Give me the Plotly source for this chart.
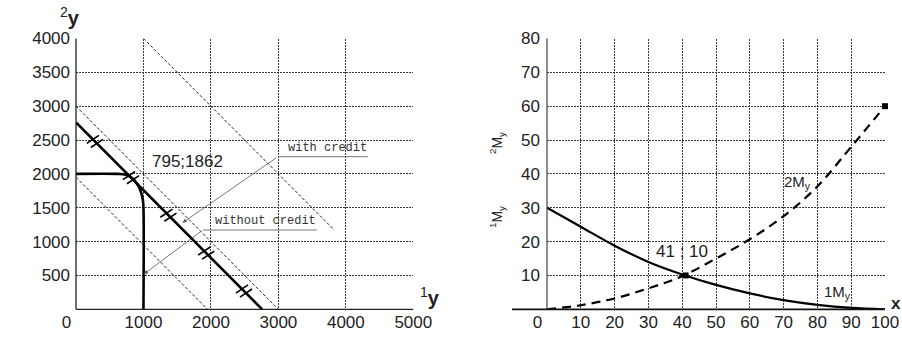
import plotly.graph_objects as go

# ---------------- data: left chart ----------------
left_xticks = [0, 1000, 2000, 3000, 4000, 5000]
left_xticktext = ["0\u2007\u2007", "1000", "2000", "3000", "4000", "5000"]
left_yticks = [500, 1000, 1500, 2000, 2500, 3000, 3500, 4000]

budget_x = [0, 2760]
budget_y = [2760, 0]
budget_tick_x = [280, 815, 1370, 1930, 2490]

ppf_x = [0, 620, 720, 800, 870, 930, 970, 992, 1000, 1000]
ppf_y = [2000, 2000, 1992, 1960, 1900, 1810, 1710, 1610, 1500, 0]

dash1_x = [0, 3000]
dash1_y = [3000, 0]
dash2_x = [0, 1950]
dash2_y = [1950, 0]
dash3_x = [1000, 3830]
dash3_y = [4000, 1170]

point_label = "795;1862"
point_label_xy = (1660, 2190)

with_credit_text = "with credit"
with_credit_under_x = [2993, 4326]
with_credit_under_y = 2254
with_credit_arrow_to = (1580, 1279)

without_credit_text = "without credit"
without_credit_under_x = [1881, 3570]
without_credit_under_y = 1171
without_credit_arrow_to = (1007, 521)

# ---------------- data: right chart ----------------
right_x = [0, 10, 20, 30, 40, 50, 60, 70, 80, 90, 100]
right_xticktext = ["0\u2007\u2007", "10", "20", "30", "40", "50", "60", "70", "80", "90", "100"]
right_yticks = [10, 20, 30, 40, 50, 60, 70, 80]
my1 = [30, 24.4, 18.8, 14.0, 10.3, 7.2, 4.7, 2.7, 1.3, 0.4, 0]
my2 = [0, 1.2, 3.2, 6.2, 9.8, 15.0, 20.7, 27.5, 36.3, 48.0, 60]
cross_pt = (41, 10)
end_pt = (100, 60)

# ---------------- layout constants ----------------
W, H = 902, 338


def px(x):   # page pixel -> paper x
    return x / W


def py(y):   # page pixel -> paper y
    return 1 - y / H


L_DOM = [px(76), px(413.3)]
R_DOM = [px(547), px(885)]
Y_DOM = [py(309.3), py(38.5)]

FONT = "Liberation Sans, Arial, sans-serif"
MONO = "Liberation Mono, DejaVu Sans Mono, monospace"
GRID = "#3a3a3a"

fig = go.Figure()

# left chart traces
for dx, dy in [(dash1_x, dash1_y), (dash2_x, dash2_y), (dash3_x, dash3_y)]:
    fig.add_trace(go.Scatter(x=dx, y=dy, mode="lines", xaxis="x", yaxis="y",
                             line=dict(color="#222", width=1, dash="3px,2px"),
                             showlegend=False, hoverinfo="skip"))

fig.add_trace(go.Scatter(x=budget_x, y=budget_y, mode="lines", xaxis="x", yaxis="y",
                         line=dict(color="#000", width=2.6), showlegend=False))
fig.add_trace(go.Scatter(x=ppf_x, y=ppf_y, mode="lines", xaxis="x", yaxis="y",
                         line=dict(color="#000", width=2.6, shape="spline", smoothing=1.0),
                         showlegend=False))

# double-stroke tick marks on the budget line
slope = (budget_y[1] - budget_y[0]) / (budget_x[1] - budget_x[0])
tx, ty = [], []
for x0 in budget_tick_x:
    y0 = budget_y[0] + slope * (x0 - budget_x[0])
    for off in (-30, 30):
        cx, cy = x0 + off, y0 - off
        tx += [cx - 90, cx + 90, None]
        ty += [cy - 60, cy + 60, None]
fig.add_trace(go.Scatter(x=tx, y=ty, mode="lines", xaxis="x", yaxis="y",
                         line=dict(color="#000", width=1.6), showlegend=False))

# underlines of leader labels
fig.add_trace(go.Scatter(x=with_credit_under_x, y=[with_credit_under_y] * 2, mode="lines",
                         xaxis="x", yaxis="y", line=dict(color="#777", width=1), showlegend=False,
                         cliponaxis=False))
fig.add_trace(go.Scatter(x=without_credit_under_x, y=[without_credit_under_y] * 2, mode="lines",
                         xaxis="x", yaxis="y", line=dict(color="#777", width=1), showlegend=False,
                         cliponaxis=False))

# right chart traces
fig.add_trace(go.Scatter(x=right_x, y=my1, mode="lines", xaxis="x2", yaxis="y2",
                         line=dict(color="#000", width=2.2, shape="spline"), showlegend=False))
fig.add_trace(go.Scatter(x=right_x, y=my2, mode="lines", xaxis="x2", yaxis="y2",
                         line=dict(color="#000", width=2.2, shape="spline", dash="9px,6px"),
                         showlegend=False))
fig.add_trace(go.Scatter(x=[cross_pt[0], end_pt[0]], y=[cross_pt[1], end_pt[1]], mode="markers",
                         xaxis="x2", yaxis="y2", cliponaxis=False,
                         marker=dict(symbol="square", size=6, color="#000"), showlegend=False))

axis_common = dict(showgrid=True, gridcolor=GRID, gridwidth=1, griddash="2px,1px",
                   zeroline=False, ticks="", tickfont=dict(family=FONT, size=17, color="#222"),
                   showline=False, fixedrange=True, automargin=False, ticklabeloverflow="allow")

fig.update_layout(
    template="none",
    width=W, height=H,
    margin=dict(l=0, r=0, t=0, b=0, pad=0),
    paper_bgcolor="white", plot_bgcolor="white",
    showlegend=False,
    xaxis=dict(domain=L_DOM, range=[0, 5000], tickvals=left_xticks, ticktext=left_xticktext,
               anchor="y", ticklabelstandoff=1, **axis_common),
    yaxis=dict(domain=Y_DOM, range=[0, 4000], tickvals=left_yticks, anchor="x",
               ticklabelstandoff=5, **axis_common),
    xaxis2=dict(domain=R_DOM, range=[0, 100], tickvals=right_x, ticktext=right_xticktext,
                anchor="y2", ticklabelstandoff=1, **axis_common),
    yaxis2=dict(domain=Y_DOM, range=[0, 80], tickvals=right_yticks, anchor="x2",
                ticklabelstandoff=6, **axis_common),
)

# axis lines (left & bottom solid)
shapes = [
    dict(type="line", xref="paper", yref="paper", x0=L_DOM[0], x1=L_DOM[0], y0=Y_DOM[0], y1=Y_DOM[1],
         line=dict(color="#222", width=1.3)),
    dict(type="line", xref="paper", yref="paper", x0=L_DOM[0], x1=L_DOM[1], y0=Y_DOM[0], y1=Y_DOM[0],
         line=dict(color="#222", width=1.3)),
    dict(type="line", xref="paper", yref="paper", x0=R_DOM[0], x1=R_DOM[0], y0=Y_DOM[0], y1=Y_DOM[1],
         line=dict(color="#444", width=1.2)),
    dict(type="line", xref="paper", yref="paper", x0=px(512), x1=R_DOM[1], y0=Y_DOM[0], y1=Y_DOM[0],
         line=dict(color="#111", width=1.8)),
]
fig.update_layout(shapes=shapes)

ann = []
# left chart annotations
ann.append(dict(x=point_label_xy[0], y=point_label_xy[1], xref="x", yref="y", text=point_label,
                showarrow=False, font=dict(family=FONT, size=17, color="#222")))
ann.append(dict(x=with_credit_under_x[0] + 120, y=with_credit_under_y, xref="x", yref="y",
                text=with_credit_text, showarrow=False, xanchor="left", yanchor="bottom",
                font=dict(family=MONO, size=12, color="#333")))
ann.append(dict(x=without_credit_under_x[0] + 150, y=without_credit_under_y, xref="x", yref="y",
                text=without_credit_text, showarrow=False, xanchor="left", yanchor="bottom",
                font=dict(family=MONO, size=12, color="#333")))
ann.append(dict(x=with_credit_arrow_to[0], y=with_credit_arrow_to[1], xref="x", yref="y",
                ax=with_credit_under_x[0], ay=with_credit_under_y, axref="x", ayref="y",
                text="", showarrow=True, arrowhead=2, arrowsize=1, arrowwidth=0.8, arrowcolor="#555"))
ann.append(dict(x=without_credit_arrow_to[0], y=without_credit_arrow_to[1], xref="x", yref="y",
                ax=without_credit_under_x[0], ay=without_credit_under_y, axref="x", ayref="y",
                text="", showarrow=True, arrowhead=2, arrowsize=1, arrowwidth=0.8, arrowcolor="#555"))
# axis titles left
ann.append(dict(x=px(70), y=py(16), xref="paper", yref="paper", text="<sup>2</sup><b>y</b>",
                xanchor="center", yanchor="middle",
                showarrow=False, font=dict(family=FONT, size=20, color="#222")))
ann.append(dict(x=px(430), y=py(296), xref="paper", yref="paper", text="<sup>1</sup><b>y</b>",
                xanchor="center", yanchor="middle",
                showarrow=False, font=dict(family=FONT, size=20, color="#222")))
# right chart annotations
ann.append(dict(x=40, y=17, xref="x2", yref="y2", text="41 ; 10", showarrow=False,
                font=dict(family=FONT, size=17, color="#222")))
ann.append(dict(x=74, y=37.5, xref="x2", yref="y2", text="2M<sub>y</sub>", showarrow=False,
                font=dict(family=FONT, size=15, color="#222")))
ann.append(dict(x=86, y=5, xref="x2", yref="y2", text="1M<sub>y</sub>", showarrow=False,
                font=dict(family=FONT, size=15, color="#222")))
ann.append(dict(x=px(896), y=py(303), xref="paper", yref="paper", text="<b>x</b>",
                xanchor="center", yanchor="middle",
                showarrow=False, font=dict(family=FONT, size=17, color="#222")))
ann.append(dict(x=px(497), y=py(143), xref="paper", yref="paper", text="<sup>2</sup>M<sub>y</sub>",
                xanchor="center", yanchor="middle",
                textangle=-90, showarrow=False, font=dict(family=FONT, size=14, color="#222")))
ann.append(dict(x=px(497), y=py(217), xref="paper", yref="paper", text="<sup>1</sup>M<sub>y</sub>",
                xanchor="center", yanchor="middle",
                textangle=-90, showarrow=False, font=dict(family=FONT, size=14, color="#222")))
fig.update_layout(annotations=ann)

# remove the default page margin so the figure fills the 902x338 window exactly
fig.write_html("out.html",
               config={"displayModeBar": False, "staticPlot": True},
               post_script="document.body.style.margin='0';document.body.style.overflow='hidden';")
